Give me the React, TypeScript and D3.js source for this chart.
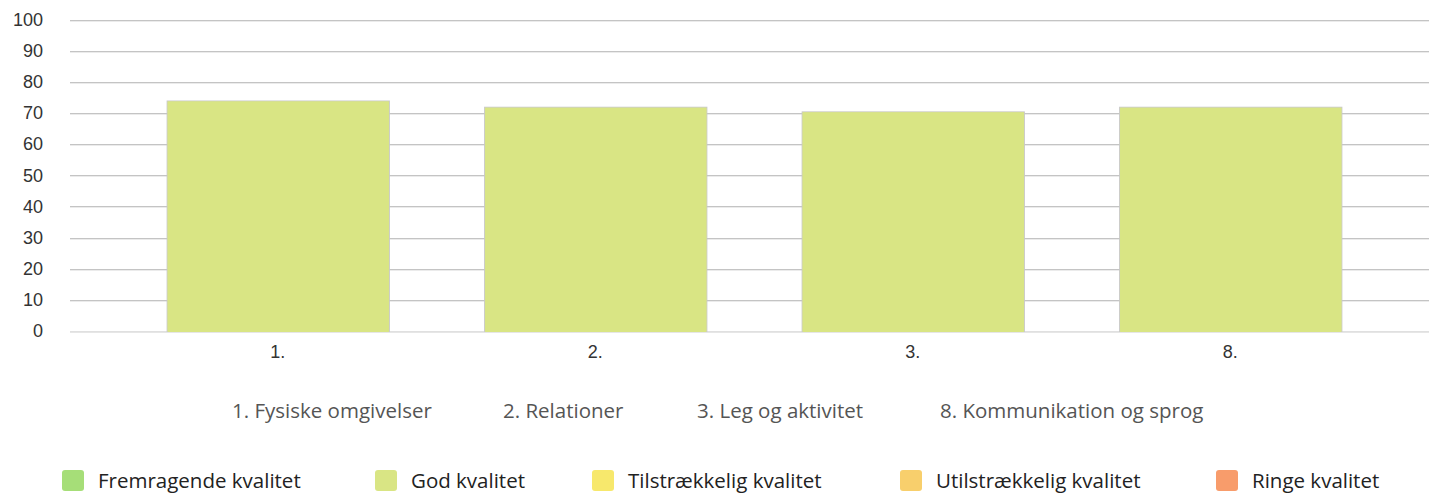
import React from "react";
import * as d3 from "d3";

const categories = ["1.", "2.", "3.", "8."];
const values = [74, 72, 70.5, 72];
const yTicks = [0, 10, 20, 30, 40, 50, 60, 70, 80, 90, 100];
const categoryNames = ["1. Fysiske omgivelser", "2. Relationer", "3. Leg og aktivitet", "8. Kommunikation og sprog"];
const legendLabels = ["Fremragende kvalitet", "God kvalitet", "Tilstrækkelig kvalitet", "Utilstrækkelig kvalitet", "Ringe kvalitet"];
const legendColors = ["#a6de78", "#d9e584", "#f7e86c", "#f8cf6c", "#f89c6b"];

const W = 1429, H = 493;

export default function App() {
  const y = d3.scaleLinear().domain([0, 100]).range([331, 19.5]);
  const x = d3.scaleBand<string>().domain(categories).range([119, 1389]).paddingInner(0.3).paddingOuter(0.15);
  const gridLeft = 70, gridRight = 1429;
  const namePos = [232, 503, 697, 940];
  const legendPos = [62, 375, 592, 900, 1216];
  return (
    <svg width={W} height={H} style={{ position: "absolute", left: 0, top: 0, display: "block" }}>
      <rect width={W} height={H} fill="#fff" />
      {yTicks.map((t) => (
        <g key={t}>
          <line x1={gridLeft} x2={gridRight} y1={Math.round(y(t)) + 0.5} y2={Math.round(y(t)) + 0.5} stroke={t === 0 ? "#e0e0e0" : "#c4c4c4"} strokeWidth={1} />
          <line x1={gridLeft} x2={gridRight} y1={Math.round(y(t)) + 1.5} y2={Math.round(y(t)) + 1.5} stroke={t === 0 ? "#e6e6e6" : "#ebebeb"} strokeWidth={1} />
          <text x={43} y={y(t)} dy="0.35em" textAnchor="end" fontFamily="Liberation Sans, Arial, sans-serif" fontSize={18} fill="#333">{t}</text>
        </g>
      ))}
      {categories.map((c, i) => (
        <g key={c}>
          <rect x={x(c)! + 0.5} y={y(values[i]) + 0.5} width={x.bandwidth()} height={y(0) - y(values[i])} fill="#d9e584" stroke="#c8c8c8" strokeWidth={1} />
          <rect x={x(c)! + 1} y={y(values[i]) + 1} width={x.bandwidth() - 1} height={y(0) - y(values[i])} fill="#d9e584" />
          <text x={x(c)! + x.bandwidth() / 2} y={358} textAnchor="middle" fontFamily="Liberation Sans, Arial, sans-serif" fontSize={18} fill="#333">{c}</text>
        </g>
      ))}
      {categoryNames.map((n, i) => (
        <text key={n} x={namePos[i]} y={418} fontFamily="Open Sans, sans-serif" fontSize={20.5} fill="#555">{n}</text>
      ))}
      {legendLabels.map((l, i) => (
        <g key={l}>
          <rect x={legendPos[i]} y={470} width={22} height={21} rx={3} fill={legendColors[i]} />
          <text x={legendPos[i] + 36} y={488} fontFamily="Open Sans, sans-serif" fontSize={20.5} fill="#222">{l}</text>
        </g>
      ))}
    </svg>
  );
}
